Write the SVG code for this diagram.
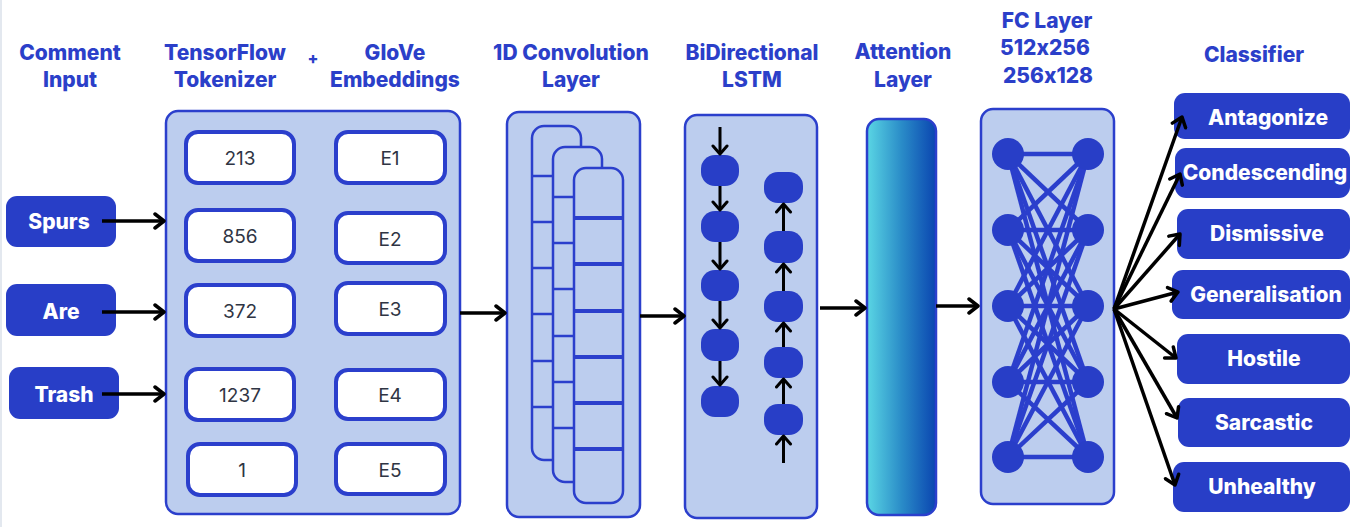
<svg xmlns="http://www.w3.org/2000/svg" width="1352" height="527" viewBox="0 0 1352 527">
<defs>
<style>
.ttl{font-family:Inter,"Open Sans","Liberation Sans",sans-serif;font-weight:800;font-size:21px;fill:#2b3fc9;text-anchor:middle;font-feature-settings:"calt" 0}
.wt{font-family:Inter,"Open Sans","Liberation Sans",sans-serif;font-weight:800;font-size:21px;fill:#ffffff;text-anchor:middle;dominant-baseline:central}
.num{font-family:Inter,"Open Sans","Liberation Sans",sans-serif;font-weight:400;font-size:19px;fill:#2f3544;text-anchor:middle;dominant-baseline:central}
.panel{fill:#bccdee;stroke:#2b3fcc;stroke-width:2.5}
.cell{fill:#ffffff;stroke:#2b3fcc;stroke-width:4}
.blk{fill:#283ec7}
.kbox{fill:#bccdee;stroke:#2b3fcc;stroke-width:2.5}
.kl{stroke:#2b3fcc;stroke-width:2.5}
.kl2{stroke:#2b3fcc;stroke-width:4}
.ar{stroke:#000;stroke-width:3.5;fill:none;marker-end:url(#arr)}
.ars{stroke:#000;stroke-width:3;fill:none;marker-end:url(#arrs)}
.fcl{stroke:#2b3fcc;stroke-width:4.5}
</style>
<marker id="arr" markerUnits="userSpaceOnUse" markerWidth="16" markerHeight="18" refX="12" refY="9" orient="auto">
<path d="M3,2 L12,9 L3,16" fill="none" stroke="#000" stroke-width="3.5" stroke-linecap="round" stroke-linejoin="round"/>
</marker>
<marker id="arrs" markerUnits="userSpaceOnUse" markerWidth="14" markerHeight="18" refX="11" refY="9" orient="auto">
<path d="M3,2 L11,9 L3,16" fill="none" stroke="#000" stroke-width="3" stroke-linecap="round" stroke-linejoin="round"/>
</marker>
<linearGradient id="att" x1="0" y1="0" x2="1" y2="0">
<stop offset="0" stop-color="#5ad6e4"/>
<stop offset="0.5" stop-color="#2a8cc8"/>
<stop offset="1" stop-color="#0a45b0"/>
</linearGradient>
</defs>
<rect x="0" y="0" width="1352" height="527" fill="#ffffff"/>
<rect x="0" y="0" width="2" height="527" fill="#e3e8ef"/>

<g id="titles">
<text class="ttl" x="70" y="60">Comment</text>
<text class="ttl" x="70" y="87">Input</text>
<text class="ttl" x="225" y="60">TensorFlow</text>
<text class="ttl" x="225" y="87">Tokenizer</text>
<text class="ttl" x="313" y="64" style="font-size:16px">+</text>
<text class="ttl" x="395" y="60">GloVe</text>
<text class="ttl" x="395" y="87">Embeddings</text>
<text class="ttl" x="571" y="60">1D Convolution</text>
<text class="ttl" x="571" y="87">Layer</text>
<text class="ttl" x="752" y="60">BiDirectional</text>
<text class="ttl" x="752" y="87">LSTM</text>
<text class="ttl" x="903" y="59">Attention</text>
<text class="ttl" x="903" y="87">Layer</text>
<text class="ttl" x="1047" y="28">FC Layer</text>
<text class="ttl" x="1045" y="55">512x256</text>
<text class="ttl" x="1048" y="83">256x128</text>
<text class="ttl" x="1254" y="62">Classifier</text>
</g>

<g id="input-spurs"><rect class="blk" x="6" y="196" width="110" height="51" rx="11"/><text class="wt" x="59" y="221">Spurs</text></g>
<g id="input-are"><rect class="blk" x="6" y="284" width="110" height="52" rx="11"/><text class="wt" x="61" y="311">Are</text></g>
<g id="input-trash"><rect class="blk" x="9" y="367" width="110" height="52" rx="11"/><text class="wt" x="64" y="394">Trash</text></g>

<g id="tokenizer-embeddings">
<rect class="panel" x="166" y="111" width="294" height="403" rx="12"/>
<g id="tok-213"><rect class="cell" x="186" y="132" width="108" height="51" rx="12"/><text class="num" x="240" y="158">213</text></g>
<g id="tok-856"><rect class="cell" x="186" y="210" width="108" height="51" rx="12"/><text class="num" x="240" y="236">856</text></g>
<g id="tok-372"><rect class="cell" x="186" y="285" width="108" height="51" rx="12"/><text class="num" x="240" y="311">372</text></g>
<g id="tok-1237"><rect class="cell" x="186" y="369" width="108" height="51" rx="12"/><text class="num" x="240" y="395">1237</text></g>
<g id="tok-1"><rect class="cell" x="188" y="444" width="108" height="51" rx="12"/><text class="num" x="242" y="470">1</text></g>
<g id="emb-e1"><rect class="cell" x="336" y="132" width="109" height="51" rx="12"/><text class="num" x="390" y="158">E1</text></g>
<g id="emb-e2"><rect class="cell" x="336" y="213" width="109" height="50" rx="12"/><text class="num" x="390" y="239">E2</text></g>
<g id="emb-e3"><rect class="cell" x="336" y="283" width="109" height="51" rx="12"/><text class="num" x="390" y="309">E3</text></g>
<g id="emb-e4"><rect class="cell" x="336" y="370" width="109" height="49" rx="12"/><text class="num" x="390" y="395">E4</text></g>
<g id="emb-e5"><rect class="cell" x="336" y="444" width="109" height="50" rx="12"/><text class="num" x="390" y="470">E5</text></g>
</g>

<g id="conv-layer">
<rect class="panel" x="507" y="112" width="133" height="405" rx="12"/>
<rect class="kbox" x="532" y="126" width="49" height="334" rx="12"/>
<g class="kl"><line x1="532" y1="176" x2="556" y2="176"/><line x1="532" y1="222" x2="556" y2="222"/><line x1="532" y1="268" x2="556" y2="268"/><line x1="532" y1="314" x2="556" y2="314"/><line x1="532" y1="361" x2="556" y2="361"/><line x1="532" y1="407" x2="556" y2="407"/></g>
<rect class="kbox" x="553" y="147" width="49" height="335" rx="12"/>
<g class="kl"><line x1="553" y1="197" x2="577" y2="197"/><line x1="553" y1="243" x2="577" y2="243"/><line x1="553" y1="289" x2="577" y2="289"/><line x1="553" y1="336" x2="577" y2="336"/><line x1="553" y1="382" x2="577" y2="382"/><line x1="553" y1="428" x2="577" y2="428"/></g>
<rect class="kbox" x="574" y="168" width="49" height="335" rx="12"/>
<g class="kl2"><line x1="574" y1="218" x2="623" y2="218"/><line x1="574" y1="264" x2="623" y2="264"/><line x1="574" y1="311" x2="623" y2="311"/><line x1="574" y1="357" x2="623" y2="357"/><line x1="574" y1="403" x2="623" y2="403"/><line x1="574" y1="449" x2="623" y2="449"/></g>
</g>

<g id="bilstm">
<rect class="panel" x="685" y="115" width="132" height="403" rx="12"/>
<g class="blk">
<rect x="701" y="155" width="38" height="31" rx="14"/>
<rect x="701" y="211" width="38" height="31" rx="14"/>
<rect x="701" y="270" width="38" height="31" rx="14"/>
<rect x="701" y="329" width="38" height="32" rx="14"/>
<rect x="701" y="386" width="38" height="31" rx="14"/>
<rect x="764" y="172" width="39" height="31" rx="14"/>
<rect x="764" y="231" width="39" height="32" rx="14"/>
<rect x="764" y="291" width="39" height="31" rx="14"/>
<rect x="764" y="347" width="39" height="31" rx="14"/>
<rect x="764" y="404" width="39" height="31" rx="14"/>
</g>
<g>
<line class="ars" x1="720" y1="127" x2="720" y2="154"/>
<line class="ars" x1="720" y1="186" x2="720" y2="210"/>
<line class="ars" x1="720" y1="242" x2="720" y2="269"/>
<line class="ars" x1="720" y1="301" x2="720" y2="328"/>
<line class="ars" x1="720" y1="361" x2="720" y2="385"/>
<line class="ars" x1="783.5" y1="463" x2="783.5" y2="436"/>
<line class="ars" x1="783.5" y1="404" x2="783.5" y2="379"/>
<line class="ars" x1="783.5" y1="347" x2="783.5" y2="323"/>
<line class="ars" x1="783.5" y1="291" x2="783.5" y2="264"/>
<line class="ars" x1="783.5" y1="231" x2="783.5" y2="204"/>
</g>
</g>

<g id="attention">
<rect x="867" y="119" width="69" height="396" rx="12" fill="url(#att)" stroke="#2b3fcc" stroke-width="2.5"/>
</g>

<g id="fc-layer">
<rect class="panel" x="981" y="109" width="133" height="395" rx="12"/>
<g class="fcl">
<line x1="1008" y1="154" x2="1088" y2="154"/><line x1="1008" y1="154" x2="1088" y2="230"/><line x1="1008" y1="154" x2="1088" y2="306"/><line x1="1008" y1="154" x2="1088" y2="382"/><line x1="1008" y1="154" x2="1088" y2="457"/>
<line x1="1008" y1="230" x2="1088" y2="154"/><line x1="1008" y1="230" x2="1088" y2="230"/><line x1="1008" y1="230" x2="1088" y2="306"/><line x1="1008" y1="230" x2="1088" y2="382"/><line x1="1008" y1="230" x2="1088" y2="457"/>
<line x1="1008" y1="306" x2="1088" y2="154"/><line x1="1008" y1="306" x2="1088" y2="230"/><line x1="1008" y1="306" x2="1088" y2="306"/><line x1="1008" y1="306" x2="1088" y2="382"/><line x1="1008" y1="306" x2="1088" y2="457"/>
<line x1="1008" y1="382" x2="1088" y2="154"/><line x1="1008" y1="382" x2="1088" y2="230"/><line x1="1008" y1="382" x2="1088" y2="306"/><line x1="1008" y1="382" x2="1088" y2="382"/><line x1="1008" y1="382" x2="1088" y2="457"/>
<line x1="1008" y1="457" x2="1088" y2="154"/><line x1="1008" y1="457" x2="1088" y2="230"/><line x1="1008" y1="457" x2="1088" y2="306"/><line x1="1008" y1="457" x2="1088" y2="382"/><line x1="1008" y1="457" x2="1088" y2="457"/>
</g>
<g class="blk">
<circle cx="1008" cy="154" r="16"/><circle cx="1008" cy="230" r="16"/><circle cx="1008" cy="306" r="16"/><circle cx="1008" cy="382" r="16"/><circle cx="1008" cy="457" r="16"/>
<circle cx="1088" cy="154" r="16"/><circle cx="1088" cy="230" r="16"/><circle cx="1088" cy="306" r="16"/><circle cx="1088" cy="382" r="16"/><circle cx="1088" cy="457" r="16"/>
</g>
</g>

<g id="class-antagonize"><rect class="blk" x="1174" y="93" width="176" height="46" rx="11"/><text class="wt" x="1268" y="117">Antagonize</text></g>
<g id="class-condescending"><rect class="blk" x="1175" y="148" width="175" height="50" rx="11"/><text class="wt" x="1265" y="172">Condescending</text></g>
<g id="class-dismissive"><rect class="blk" x="1177" y="209" width="173" height="50" rx="11"/><text class="wt" x="1267" y="233">Dismissive</text></g>
<g id="class-generalisation"><rect class="blk" x="1172" y="270" width="178" height="49" rx="11"/><text class="wt" x="1266" y="294">Generalisation</text></g>
<g id="class-hostile"><rect class="blk" x="1177" y="334" width="173" height="50" rx="11"/><text class="wt" x="1264" y="358">Hostile</text></g>
<g id="class-sarcastic"><rect class="blk" x="1178" y="398" width="172" height="49" rx="11"/><text class="wt" x="1264" y="422">Sarcastic</text></g>
<g id="class-unhealthy"><rect class="blk" x="1173" y="462" width="177" height="50" rx="11"/><text class="wt" x="1262" y="486">Unhealthy</text></g>

<g id="connectors">
<line class="ar" x1="102" y1="221" x2="164" y2="221"/>
<line class="ar" x1="102" y1="312" x2="164" y2="312"/>
<line class="ar" x1="102" y1="394" x2="164" y2="394"/>
<line class="ar" x1="460" y1="313" x2="505" y2="313"/>
<line class="ar" x1="640" y1="316" x2="684" y2="316"/>
<line class="ar" x1="820" y1="308" x2="865" y2="308"/>
<line class="ar" x1="936" y1="306" x2="978" y2="306"/>
<line class="ar" x1="1114" y1="309" x2="1182" y2="117"/>
<line class="ar" x1="1114" y1="309" x2="1180" y2="174"/>
<line class="ar" x1="1114" y1="309" x2="1180" y2="234"/>
<line class="ar" x1="1114" y1="309" x2="1178" y2="292"/>
<line class="ar" x1="1114" y1="309" x2="1176" y2="358"/>
<line class="ar" x1="1114" y1="309" x2="1177" y2="418"/>
<line class="ar" x1="1114" y1="309" x2="1175" y2="485"/>
</g>
</svg>
